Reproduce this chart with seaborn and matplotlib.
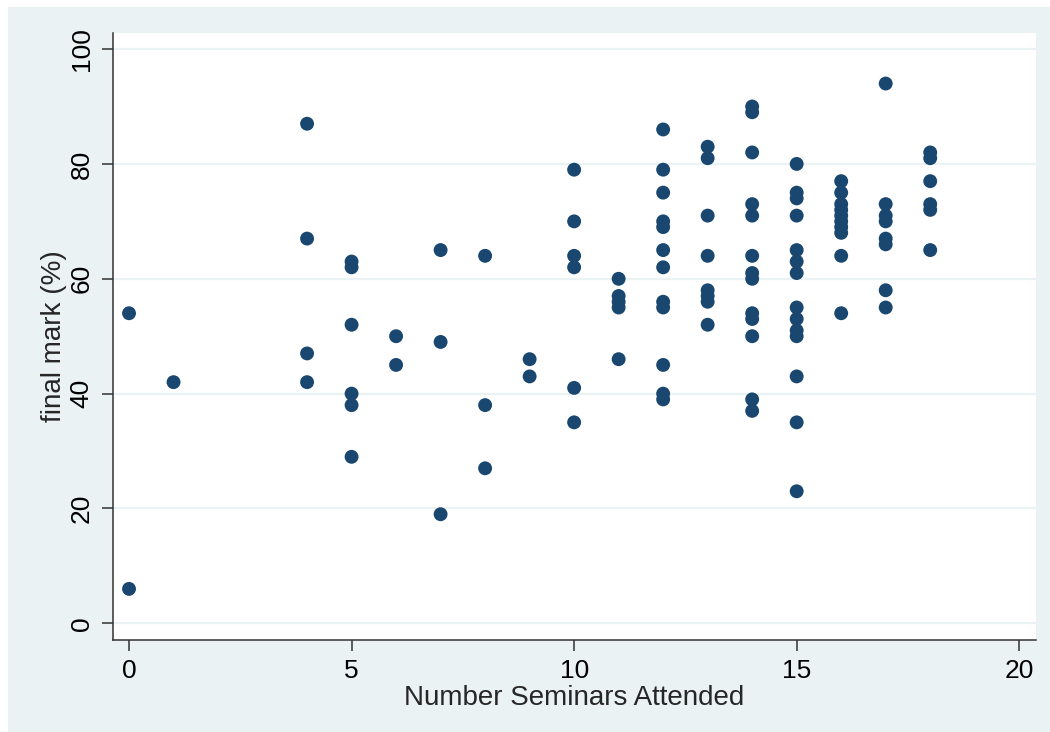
import pandas as pd
import matplotlib
matplotlib.use("Agg")
import matplotlib.pyplot as plt
import seaborn as sns
from matplotlib.patches import Rectangle

# seminars attended (x) and the final marks observed at each count (y)
seminar_counts = [0, 1, 4, 5, 6, 7, 8, 9, 10, 11, 12, 13, 14, 15, 16, 17, 18]
marks_by_count = [
    [54, 6],
    [42],
    [87, 67, 47, 42],
    [63, 62, 52, 40, 38, 29],
    [50, 45],
    [65, 49, 19],
    [64, 38, 27],
    [46, 43],
    [79, 70, 64, 62, 41, 35],
    [60, 57, 56, 55, 46],
    [86, 79, 75, 70, 69, 65, 62, 56, 55, 45, 40, 39],
    [83, 81, 71, 64, 58, 57, 56, 52],
    [90, 89, 82, 73, 71, 64, 61, 60, 54, 53, 50, 39, 37],
    [80, 75, 74, 71, 65, 63, 61, 55, 53, 51, 50, 43, 35, 23],
    [77, 75, 73, 72, 71, 70, 69, 68, 64, 54],
    [94, 73, 71, 70, 67, 66, 58, 55],
    [82, 81, 77, 73, 72, 65],
]
x_ticks = [0, 5, 10, 15, 20]
y_ticks = [0, 20, 40, 60, 80, 100]

rows = []
for count, marks in zip(seminar_counts, marks_by_count):
    for m in marks:
        rows.append({"seminars": count, "mark": m})
df = pd.DataFrame(rows)

sns.set_style("white")
plt.rcParams["font.family"] = ["Liberation Sans", "DejaVu Sans"]

navy = "#1A476F"
outer_bg = "#EAF2F3"

fig = plt.figure(figsize=(10.5, 7.32), dpi=100, facecolor="white")
# Stata-like light outer region (leaves a thin white strip top/left)
fig.patches.append(Rectangle((8 / 1050, 0), 1, 725 / 732,
                             transform=fig.transFigure,
                             facecolor=outer_bg, edgecolor="none", zorder=-10))

ax = fig.add_axes([113 / 1050, 92 / 732, 922.7 / 1050, 607 / 732])
ax.set_facecolor("white")

sns.scatterplot(data=df, x="seminars", y="mark", ax=ax,
                color=navy, s=100, edgecolor="none", linewidth=0, zorder=3)

ax.set_xlim(-0.36, 20.37)
ax.set_ylim(-2.9, 102.8)
ax.set_xticks(x_ticks)
ax.set_yticks(y_ticks)

for y in y_ticks:
    ax.axhline(y, color=outer_bg, lw=1.6, zorder=1)

for side in ["top", "right"]:
    ax.spines[side].set_visible(False)
for side in ["left", "bottom"]:
    ax.spines[side].set_color("#333333")
    ax.spines[side].set_linewidth(1.1)

ax.tick_params(axis="both", direction="out", length=8, width=1.1,
               color="#333333", labelsize=19, pad=6, labelcolor="black")
ax.tick_params(axis="both", which="both", bottom=True, left=True)
for lbl in ax.get_yticklabels():
    lbl.set_rotation(90)
    lbl.set_va("center")

ax.set_xlabel("Number Seminars Attended", fontsize=20, labelpad=1)
ax.set_ylabel("final mark (%)", fontsize=20, labelpad=2)

fig.savefig("out.png", dpi=100, facecolor="white")
